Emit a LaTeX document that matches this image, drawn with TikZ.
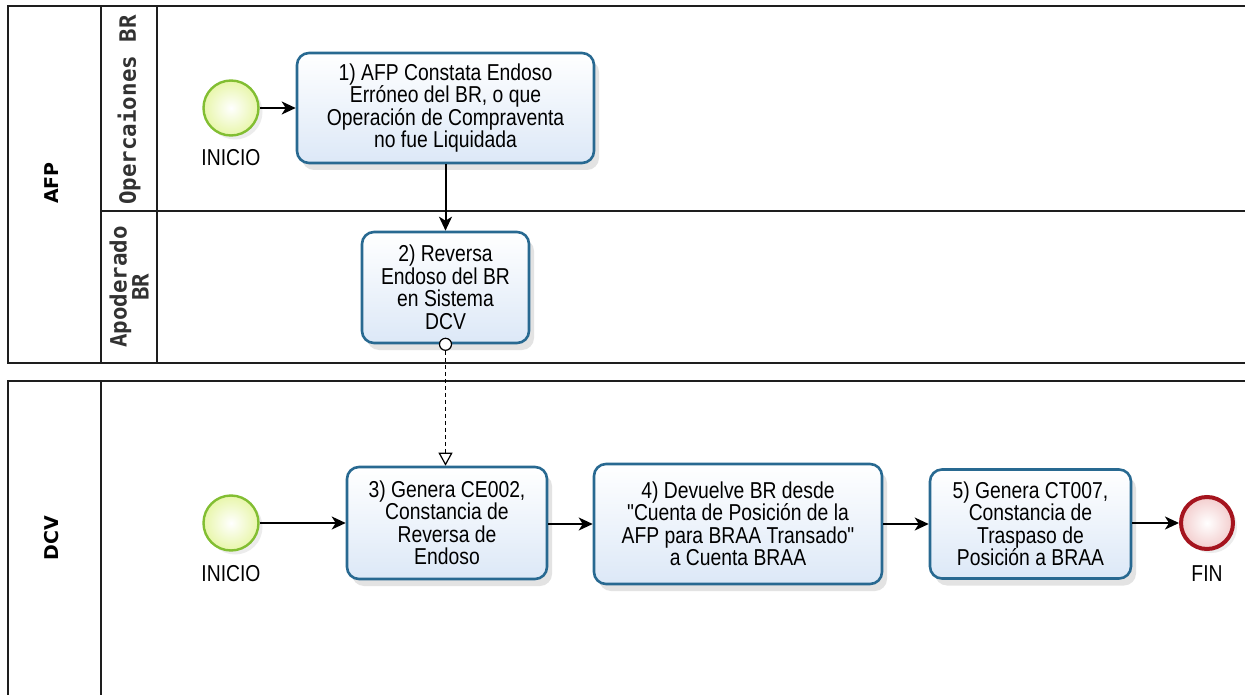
\documentclass[tikz,border=0pt]{standalone}
\usepackage{fontspec}
\setmainfont{Liberation Sans}
\newfontfamily\taskfont{Liberation Sans}[FakeStretch=0.84]
\newfontfamily\lanefont{DejaVu Sans Mono}
\newfontfamily\poolfont{DejaVu Sans}
\usetikzlibrary{arrows.meta,shadows}
\definecolor{taskborder}{RGB}{40,105,145}
\definecolor{taskfill}{RGB}{220,232,247}
\definecolor{startborder}{RGB}{130,190,50}
\definecolor{startfill}{RGB}{232,246,170}
\definecolor{endborder}{RGB}{165,20,30}
\definecolor{endfill}{RGB}{243,205,205}
\definecolor{laneline}{RGB}{30,30,30}
\definecolor{lanetext}{RGB}{50,50,50}
\begin{document}
\begin{tikzpicture}[x=1pt,y=-1pt,
  task/.style={draw=taskborder, line width=2.6pt, rounded corners=12pt,
    top color=white, bottom color=taskfill, align=center,
    font=\taskfont\fontsize{23}{22.5}\selectfont, inner sep=0pt,
    drop shadow={shadow xshift=5pt,shadow yshift=-7pt,opacity=0.22}},
  startev/.style={circle, draw=startborder, line width=2.4pt, inner color=white, outer color=startfill,
    minimum size=55pt, inner sep=0pt,
    drop shadow={shadow xshift=4pt,shadow yshift=-4pt,opacity=0.15}},
  endev/.style={circle, draw=endborder, line width=4pt, inner color=white, outer color=endfill,
    minimum size=52pt, inner sep=0pt,
    drop shadow={shadow xshift=4pt,shadow yshift=-4pt,opacity=0.15}},
  evlabel/.style={font=\taskfont\fontsize{23}{22}\selectfont, inner sep=0pt},
  flow/.style={line width=2pt, -{Stealth[length=14pt,width=13pt,inset=4pt]}},
  msgflow/.style={line width=1.2pt, dashed, dash pattern=on 4pt off 3pt, -{Triangle[open,length=13pt,width=14pt,line width=1.2pt]}},
  poolline/.style={draw=laneline, line width=1.6pt},
  lanelabel/.style={rotate=90, font=\lanefont\bfseries\fontsize{22.5}{22}\selectfont, text=lanetext, align=center, inner sep=0pt},
  poollabel/.style={rotate=90, font=\poolfont\bfseries\fontsize{19}{20}\selectfont, inner sep=0pt}
]
\useasboundingbox (0,0) rectangle (1245,695);
\clip (0,0) rectangle (1245,695);
\fill[white] (0,0) rectangle (1245,695);
% AFP pool
\draw[poolline] (1260,6) -- (8,6) -- (8,363) -- (1260,363);
\draw[poolline] (101,6) -- (101,363);
\draw[poolline] (157,6) -- (157,363);
\draw[poolline] (101,211) -- (1260,211);
% DCV pool
\draw[poolline] (1260,381) -- (8,381) -- (8,710);
\draw[poolline] (101,381) -- (101,710);
% labels
\node[poollabel] (lafp) at (52,183) {AFP};
\node[lanelabel] (lop) at (129,110) {Opercaiones BR};
\node[lanelabel] (lap) at (129,287) {Apoderado\\BR};
\node[poollabel] (ldcv) at (52,538) {DCV};
% events
\node[startev] (s1) at (231,108) {};
\node[evlabel] (s1l) at (231,158) {INICIO};
\node[startev] (s2) at (231,523) {};
\node[evlabel] (s2l) at (231,574) {INICIO};
\node[endev] (e1) at (1207,523) {};
\node[evlabel] (e1l) at (1207,574) {FIN};
% tasks
\node[task, minimum width=297pt, minimum height=110pt] (t1) at (445.5,108)
  {1) AFP Constata Endoso\\Erróneo del BR, o que\\Operación de Compraventa\\no fue Liquidada};
\node[task, minimum width=167pt, minimum height=111pt] (t2) at (445.5,287.5)
  {2) Reversa\\Endoso del BR\\en Sistema\\DCV};
\node[task, minimum width=200pt, minimum height=112pt] (t3) at (447,523)
  {3) Genera CE002,\\Constancia de\\Reversa de\\Endoso};
\node[task, minimum width=288pt, minimum height=120pt] (t4) at (738,524)
  {4) Devuelve BR desde\\\char34 Cuenta de Posición de la\\AFP para BRAA Transado\char34\\a Cuenta BRAA};
\node[task, minimum width=201pt, minimum height=109pt] (t5) at (1030.5,524)
  {5) Genera CT007,\\Constancia de\\Traspaso de\\Posición a BRAA};
% flows
\draw[flow] (s1.east) -- (t1.west |- s1.east);
\draw[flow] (t1.south -| t2.north) -- (t2.north);
\draw[flow] (s2.east) -- (t3.west |- s2.east);
\draw[flow] (t3.east |- t4.west) -- (t4.west);
\draw[flow] (t4.east) -- (t5.west |- t4.east);
\draw[flow] (t5.east |- e1.west) -- (e1.west);
% message flow
\node[circle, draw=black, line width=1.2pt, fill=white, minimum size=12pt, inner sep=0pt] (mc) at (t2.south) {};
\draw[msgflow] (mc.south) -- (t3.north -| mc.south);
\end{tikzpicture}
\end{document}
